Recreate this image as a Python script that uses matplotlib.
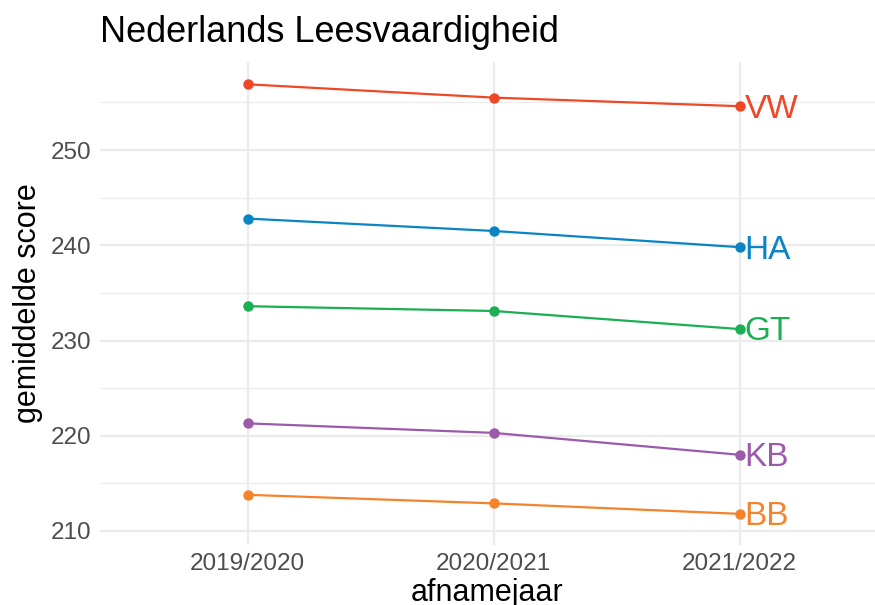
import matplotlib.pyplot as plt
import numpy as np

plt.rcParams['font.family'] = ['Liberation Sans', 'DejaVu Sans']

jaren = ['2019/2020', '2020/2021', '2021/2022']
groepen = ['VW', 'HA', 'GT', 'KB', 'BB']
scores = {
    'VW': [256.9, 255.5, 254.6],
    'HA': [242.8, 241.5, 239.8],
    'GT': [233.6, 233.1, 231.2],
    'KB': [221.3, 220.3, 218.0],
    'BB': [213.8, 212.9, 211.8],
}
kleuren = {
    'VW': '#EE4826',
    'HA': '#0B84C4',
    'GT': '#1BAE52',
    'KB': '#9C5AAA',
    'BB': '#F5832B',
}

fig = plt.figure(figsize=(8.75, 6.05), dpi=100)
ax = fig.add_axes([100 / 875, 1 - 545 / 605, 775 / 875, 483 / 605])

x = np.arange(len(jaren))
for g in groepen:
    ax.plot(x, scores[g], color=kleuren[g], lw=1.6, marker='o', ms=6.5, zorder=3)
    ax.text(x[-1] + 0.02, scores[g][-1] - 0.3, g, color=kleuren[g], fontsize=24,
            ha='left', va='center', zorder=4)

ax.set_xlim(-0.6, 2.55)
ax.set_ylim(208.53, 259.24)
ax.set_xticks(x)
ax.set_xticklabels(jaren)
ax.set_yticks([210, 220, 230, 240, 250])
ax.set_yticks([215, 225, 235, 245, 255], minor=True)

ax.grid(True, which='major', color='#EBEBEB', lw=1.6, zorder=0)
ax.grid(True, which='minor', axis='y', color='#EBEBEB', lw=0.9, zorder=0)
ax.tick_params(which='both', length=0, labelsize=17.5, labelcolor='#4D4D4D', pad=6)
for s in ax.spines.values():
    s.set_visible(False)

ax.set_xlabel('afnamejaar', fontsize=22, labelpad=2)
ax.set_ylabel('gemiddelde score', fontsize=22, labelpad=6)
fig.text(100 / 875, 1 - 32 / 605, 'Nederlands Leesvaardigheid', fontsize=26,
         ha='left', va='center')

fig.savefig('out.png', dpi=100)
